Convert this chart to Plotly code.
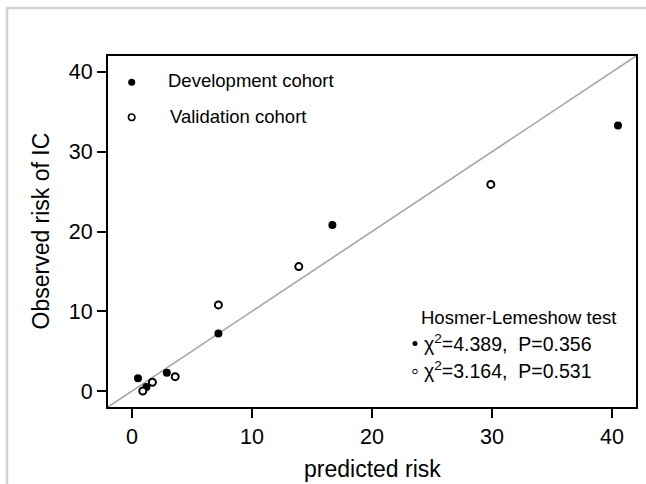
import plotly.graph_objects as go

# ---- data ----
dev_pred = [0.5, 1.2, 2.9, 7.2, 16.7, 40.5]
dev_obs = [1.6, 0.5, 2.3, 7.2, 20.8, 33.3]
val_pred = [0.9, 1.7, 3.6, 7.2, 13.9, 29.9]
val_obs = [0.0, 1.1, 1.8, 10.8, 15.6, 25.9]
axis_range = [-2, 42]
tick_values = [0, 10, 20, 30, 40]
legend_labels = ["Development cohort", "Validation cohort"]
hl_title = "Hosmer-Lemeshow test"
hl_lines = ["χ<sup>2</sup>=4.389,  P=0.356", "χ<sup>2</sup>=3.164,  P=0.531"]

W, H = 646, 484
L, R, T, B = 108, 10, 56, 77
PW, PH = W - L - R, H - T - B
FONT = "Liberation Sans, Arial, sans-serif"


def px(x):
    return (x - L) / PW


def py(y):
    return 1 - (y - T) / PH


fig = go.Figure()

# identity reference line
fig.add_trace(go.Scatter(x=axis_range, y=axis_range, mode="lines",
                         line=dict(color="#a6a6a6", width=1.6),
                         showlegend=False, hoverinfo="skip"))
fig.add_trace(go.Scatter(x=dev_pred, y=dev_obs, mode="markers",
                         marker=dict(size=8, color="black", line=dict(width=0)),
                         name=legend_labels[0], showlegend=False))
fig.add_trace(go.Scatter(x=val_pred, y=val_obs, mode="markers",
                         marker=dict(size=7, color="white", line=dict(color="black", width=2)),
                         name=legend_labels[1], showlegend=False))

shapes = []
# outer light-gray frame
shapes.append(dict(type="rect", xref="paper", yref="paper",
                   x0=px(7), x1=px(700), y0=py(560), y1=py(8),
                   line=dict(color="#d4d4d4", width=2.5), fillcolor="rgba(0,0,0,0)",
                   layer="below"))


def dot(xc, yc, d, filled, lw=1.5):
    return dict(type="circle", xref="paper", yref="paper",
                xsizemode="pixel", ysizemode="pixel",
                xanchor=px(xc), yanchor=py(yc),
                x0=-d / 2, x1=d / 2, y0=-d / 2, y1=d / 2,
                fillcolor="black" if filled else "white",
                line=dict(color="black", width=0 if filled else lw))


shapes.append(dot(131.7, 82.3, 7, True))
shapes.append(dot(131.7, 117.3, 6.5, False, 1.6))
shapes.append(dot(415, 343.5, 5, True))
shapes.append(dot(415, 371.5, 4.5, False, 1.0))

annotations = []


def text(s, xl, yc, size, anchor="left"):
    annotations.append(dict(text=s, xref="paper", yref="paper", x=px(xl), y=py(yc),
                            xanchor=anchor, yanchor="middle", showarrow=False,
                            font=dict(family=FONT, size=size, color="black")))


text(legend_labels[0], 166, 80.5, 18.5)
text(legend_labels[1], 168, 116, 18.5)
text(hl_title, 419, 317, 18.5)
text(hl_lines[0], 422, 343, 19.5)
text(hl_lines[1], 422, 370, 19.5)

# axis titles
annotations.append(dict(text="predicted risk", xref="paper", yref="paper",
                        x=0.5, y=py(469), xanchor="center", yanchor="middle",
                        showarrow=False, font=dict(family=FONT, size=23, color="black")))
annotations.append(dict(text="Observed risk of IC", xref="paper", yref="paper",
                        x=px(40), y=0.5, xanchor="center", yanchor="middle", textangle=-90,
                        showarrow=False, font=dict(family=FONT, size=23, color="black")))

axis_common = dict(range=axis_range, tickvals=tick_values, ticks="outside", ticklen=9,
                   tickwidth=1.5, tickcolor="black", showline=True, linewidth=2,
                   linecolor="black", mirror=True, showgrid=False, zeroline=False,
                   tickfont=dict(family=FONT, size=21.5, color="black"))

fig.update_layout(
    width=W, height=H,
    margin=dict(l=L, r=R, t=T, b=B, autoexpand=False),
    paper_bgcolor="white", plot_bgcolor="white",
    xaxis=axis_common, yaxis=axis_common,
    shapes=shapes, annotations=annotations,
    showlegend=False,
)

fig.write_html("out.html", config={"displayModeBar": False},
               post_script="document.body.style.margin='0';document.body.style.overflow='hidden';")
